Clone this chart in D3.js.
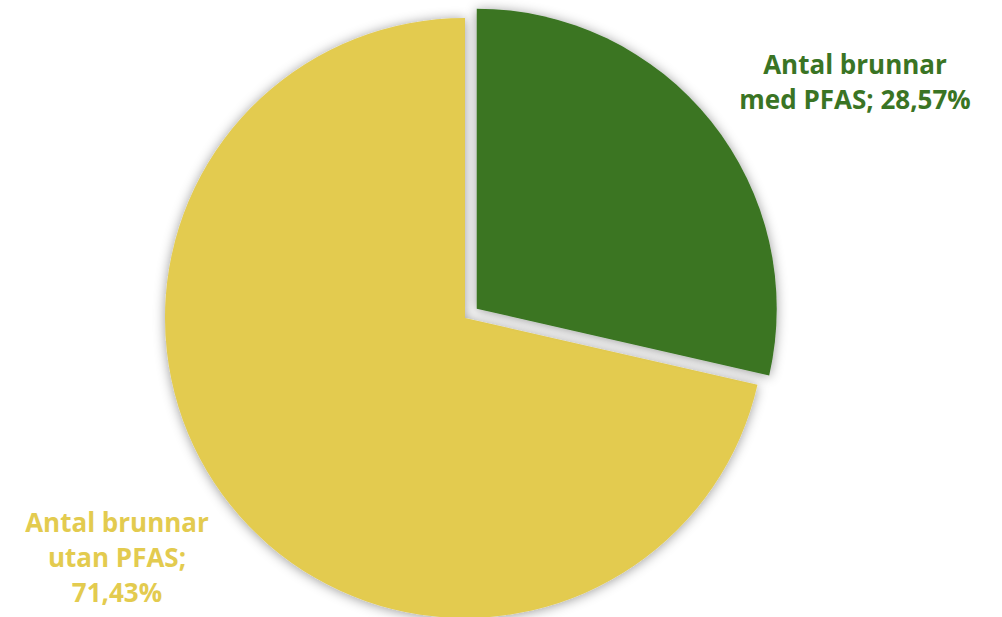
<!DOCTYPE html>
<html>
<head>
<meta charset="utf-8">
<script src="https://cdn.jsdelivr.net/npm/d3@7"></script>
<style>
  body { margin: 0; background: #fff; }
  svg text { font-family: "Open Sans", sans-serif; font-weight: 700; }
</style>
</head>
<body>
<div id="pie_chart"></div>
<script>
// categories and values (percent)
var categories = ["Antal brunnar med PFAS", "Antal brunnar utan PFAS"];
var values = [28.57, 71.43];
var labels = [["Antal brunnar", "med PFAS; 28,57%"], ["Antal brunnar", "utan PFAS;", "71,43%"]];
var colors = ["#3a7424", "#e3cb4f"];

var pieDiv = document.getElementById("pie_chart");
var svgwidth = 1002, svgheight = 617;
var cx = 465, cy = 318, radius = 300;
var explode = 15;

var data = categories.map(function(c, i) { return {name: c, value: values[i], label: labels[i], color: colors[i]}; });

var svg = d3.select(pieDiv).append("svg")
    .attr("width", svgwidth)
    .attr("height", svgheight);

var defs = svg.append("defs");
var f = defs.append("filter").attr("id", "shadow")
    .attr("x", "-20%").attr("y", "-20%").attr("width", "140%").attr("height", "140%");
f.append("feDropShadow")
    .attr("dx", 0).attr("dy", 1)
    .attr("stdDeviation", 6)
    .attr("flood-color", "#000")
    .attr("flood-opacity", 0.4);

var pie = d3.pie().sort(null).value(function(d) { return d.value; });
var arc = d3.arc().innerRadius(0).outerRadius(radius);

var g = svg.append("g")
    .attr("transform", "translate(" + cx + "," + cy + ")");

var arcs = pie(data);

// draw yellow (unexploded) first, green on top
g.selectAll("path.slice")
    .data(arcs.slice().reverse())
  .enter().append("path")
    .attr("class", "slice")
    .attr("d", arc)
    .attr("fill", function(d) { return d.data.color; })
    .attr("filter", "url(#shadow)")
    .attr("transform", function(d) {
        if (d.index !== 0) return null;
        var mid = (d.startAngle + d.endAngle) / 2;
        return "translate(" + (Math.sin(mid) * explode) + "," + (-Math.cos(mid) * explode) + ")";
    });

// labels
var labelPos = [[855, 74], [117, 532]];
var lineH = 35;

svg.selectAll("text.label")
    .data(arcs)
  .enter().append("text")
    .attr("class", "label")
    .attr("text-anchor", "middle")
    .attr("fill", function(d) { return d.data.color; })
    .style("font-size", "26px")
    .each(function(d) {
        var t = d3.select(this);
        d.data.label.forEach(function(line, j) {
            t.append("tspan")
                .attr("x", labelPos[d.index][0])
                .attr("y", labelPos[d.index][1] + j * lineH)
                .text(line);
        });
    });
</script>
</body>
</html>
